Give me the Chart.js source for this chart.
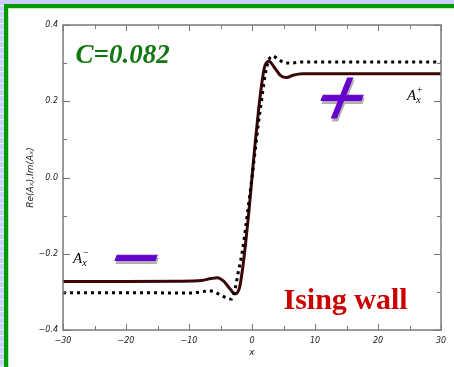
<!DOCTYPE html>
<html>
<head>
<meta charset="utf-8">
<script src="https://cdn.jsdelivr.net/npm/chart.js@4"></script>
<style>
  html, body { margin: 0; padding: 0; }
  #page {
    position: relative; width: 454px; height: 367px; overflow: hidden;
    background: repeating-linear-gradient(to bottom, #ccccff 0px, #ccccff 5px, #ccffcc 5px, #ccffcc 6px);
  }
  #panel {
    position: absolute; left: 4px; top: 4px; width: 460px; height: 380px;
    border-left: 4px solid #009900; border-top: 4px solid #009900;
    background: #fff; box-shadow: inset 1px 1px 0 #bbeebb;
  }
  #chart { position: absolute; left: 0; top: 0; }
</style>
</head>
<body>
<div id="page">
  <div id="panel"></div>
  <canvas id="chart" width="454" height="367"></canvas>
</div>
<script>
// solid curve (dark red) and dotted curve (black)
const solidX = [-30, -20, -12, -8, -6.5, -5.5, -4.5, -3.5, -2.7, -2.0, -1.5, -1.0, -0.5, 0, 0.5, 1.0, 1.5, 2.0, 2.7, 3.5, 4.5, 5.5, 6.5, 8, 12, 20, 30];
const solidY = [-0.273, -0.273, -0.272, -0.270, -0.265, -0.263, -0.272, -0.292, -0.305, -0.290, -0.240, -0.170, -0.090, 0.0, 0.090, 0.170, 0.240, 0.290, 0.305, 0.290, 0.268, 0.262, 0.268, 0.272, 0.272, 0.272, 0.272];
const dotX = [-30, -20, -10, -8, -7, -6, -5, -4, -3.3, -2.8, -2.2, -1.5, -1.0, -0.5, 0, 0.5, 1.0, 1.5, 2.0, 2.6, 3.3, 4.0, 5.0, 6.0, 8, 20, 30];
const dotY = [-0.302, -0.302, -0.303, -0.300, -0.297, -0.300, -0.308, -0.316, -0.319, -0.300, -0.250, -0.190, -0.130, -0.065, 0.0, 0.070, 0.140, 0.200, 0.260, 0.305, 0.319, 0.312, 0.302, 0.300, 0.303, 0.303, 0.303];

const xMajor = [-30, -20, -10, 0, 10, 20, 30];
const xMinor = [-25, -15, -5, 5, 15, 25];
const yMajor = [-0.4, -0.2, 0.0, 0.2, 0.4];
const yMinor = [-0.3, -0.1, 0.1, 0.3];

const toPts = (xs, ys) => xs.map((x, i) => ({ x: x, y: ys[i] }));
const fmt = v => (v < 0 ? '\u2212' : '') + Math.abs(v);

const framePlugin = {
  id: 'frame',
  afterDatasetsDraw(chart) {
    const { ctx, chartArea: a, scales } = chart;
    const xs = scales.x, ys = scales.y;
    ctx.save();
    ctx.strokeStyle = '#7a7a7a';
    ctx.lineWidth = 1.5;
    ctx.strokeRect(a.left, a.top, a.right - a.left, a.bottom - a.top);
    ctx.lineWidth = 1;
    const xt = (v, len) => {
      const p = Math.round(xs.getPixelForValue(v)) + 0.5;
      ctx.beginPath();
      ctx.moveTo(p, a.bottom); ctx.lineTo(p, a.bottom - len);
      ctx.moveTo(p, a.top); ctx.lineTo(p, a.top + len);
      ctx.stroke();
    };
    const yt = (v, len) => {
      const p = Math.round(ys.getPixelForValue(v)) + 0.5;
      ctx.beginPath();
      ctx.moveTo(a.left, p); ctx.lineTo(a.left + len, p);
      ctx.moveTo(a.right, p); ctx.lineTo(a.right - len, p);
      ctx.stroke();
    };
    xMajor.forEach(v => xt(v, 6));
    xMinor.forEach(v => xt(v, 4));
    yMajor.forEach(v => yt(v, 7));
    yMinor.forEach(v => yt(v, 4));

    // annotations, placed in data coordinates
    const px = v => xs.getPixelForValue(v);
    const py = v => ys.getPixelForValue(v);

    ctx.textBaseline = 'alphabetic';
    ctx.textAlign = 'left';
    ctx.fillStyle = '#117711';
    ctx.font = 'italic bold 27px "Liberation Serif"';
    ctx.fillText('C=0.082', px(-28), py(0.300));

    ctx.fillStyle = '#cc0000';
    ctx.font = 'bold 30px "Liberation Serif"';
    ctx.fillText('Ising wall', px(5.0), py(-0.345));

    // purple signs, slanted, with grey shadow
    const sign = (ch, x, y) => {
      ctx.save();
      ctx.translate(px(x), py(y));
      ctx.transform(1, 0, -0.4, 1, 0, 0);
      ctx.font = '64px "DejaVu Sans"';
      ctx.textAlign = 'center';
      ctx.textBaseline = 'middle';
      ctx.fillStyle = ctx.strokeStyle = '#b0b0b0';
      ctx.lineWidth = 1;
      ctx.fillText(ch, 2, 3); ctx.strokeText(ch, 2, 3);
      ctx.fillStyle = ctx.strokeStyle = '#6600cc';
      ctx.fillText(ch, 0, 0); ctx.strokeText(ch, 0, 0);
      ctx.restore();
    };
    sign('+', 14.1, 0.199);
    sign('\u2212', -18.6, -0.219);

    // A_x labels
    const aLabel = (x, y, sup) => {
      ctx.textAlign = 'left';
      ctx.textBaseline = 'alphabetic';
      ctx.fillStyle = '#000';
      ctx.font = 'italic 15px "Liberation Serif"';
      const X = px(x), Y = py(y);
      ctx.fillText('A', X, Y);
      const w = ctx.measureText('A').width;
      ctx.font = 'italic 10px "Liberation Serif"';
      ctx.fillText('x', X + w, Y + 3);
      ctx.fillText(sup, X + w, Y - 7);
    };
    aLabel(24.6, 0.204, '+');
    aLabel(-28.4, -0.224, '\u2212');
    ctx.restore();
  }
};

const tickFont = { family: 'DejaVu Sans', size: 8, style: 'italic' };

new Chart(document.getElementById('chart'), {
  type: 'line',
  data: {
    datasets: [
      {
        data: toPts(dotX, dotY),
        borderColor: '#000',
        borderWidth: 3,
        borderDash: [3, 4],
        borderCapStyle: 'butt',
        cubicInterpolationMode: 'monotone',
        pointRadius: 0,
        fill: false
      },
      {
        data: toPts(solidX, solidY),
        borderColor: '#3a0606',
        borderWidth: 3,
        cubicInterpolationMode: 'monotone',
        pointRadius: 0,
        fill: false
      }
    ]
  },
  options: {
    responsive: false,
    animation: false,
    layout: { padding: { top: 25, right: 13, left: 0, bottom: 0 } },
    plugins: { legend: { display: false }, tooltip: { enabled: false } },
    scales: {
      x: {
        type: 'linear', min: -30, max: 30,
        afterBuildTicks: s => { s.ticks = xMajor.map(v => ({ value: v })); },
        afterFit: s => { s.height = 37; },
        grid: { display: false },
        border: { display: false },
        ticks: { font: tickFont, color: '#222', padding: -2, maxRotation: 0, callback: v => fmt(v) },
        title: { display: true, text: 'x', color: '#222', font: { family: 'DejaVu Sans', size: 9, style: 'italic' }, padding: { top: 0, bottom: 9 } }
      },
      y: {
        type: 'linear', min: -0.4, max: 0.4,
        afterBuildTicks: s => { s.ticks = yMajor.map(v => ({ value: v })); },
        afterFit: s => { s.width = 63; },
        grid: { display: false },
        border: { display: false },
        ticks: { font: tickFont, color: '#222', padding: -3, callback: v => fmt(Math.abs(v) < 1e-9 ? 0 : v).replace(/^(\u2212?\d)$/, '$1.0').replace(/^(\u2212?\d\.\d)\d*$/, '$1') },
        title: { display: true, text: 'Re(A\u2093),Im(A\u2093)', color: '#222', font: { family: 'DejaVu Sans', size: 9, style: 'italic' }, padding: { top: 25, bottom: 0 } }
      }
    }
  },
  plugins: [framePlugin]
});
</script>
</body>
</html>
